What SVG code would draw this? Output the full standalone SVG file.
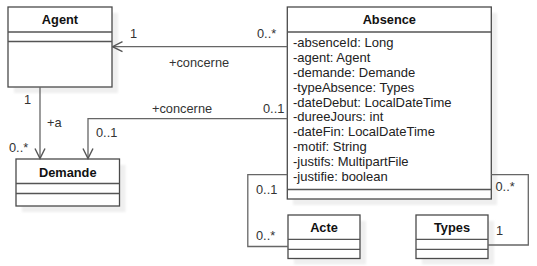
<svg xmlns="http://www.w3.org/2000/svg" width="537" height="266" viewBox="0 0 537 266">
  <defs>
    <marker id="open" viewBox="0 0 12 12" refX="11" refY="6" markerWidth="12" markerHeight="12" markerUnits="userSpaceOnUse" orient="auto">
      <path d="M1,1 L11,6 L1,11" fill="none" stroke="#555" stroke-width="1.4"/>
    </marker>
    <filter id="soft" x="-10%" y="-10%" width="130%" height="130%">
      <feGaussianBlur stdDeviation="0.8"/>
    </filter>
  </defs>
  <style>
    .shadow { fill: #efefef; filter: url(#soft); }
    .box { fill: #ffffff; stroke: #4a4a4a; stroke-width: 1.3; }
    .sep { stroke: #555; stroke-width: 1.3; }
    .title { font-family: "Liberation Sans", Arial, sans-serif; font-size: 12.8px; font-weight: bold; fill: #111; text-anchor: middle; }
    .attr { font-family: "Liberation Sans", Arial, sans-serif; font-size: 13px; fill: #222; }
    .lbl { font-family: "Liberation Sans", Arial, sans-serif; font-size: 12.8px; fill: #333; }
    .edge { fill: none; stroke: #666; stroke-width: 1.3; }
  </style>
  <rect width="537" height="266" fill="#ffffff"/>

  <g id="agent">
    <rect class="shadow" x="14" y="13" width="104" height="80"/>
    <rect class="box" x="8" y="7" width="104" height="80"/>
    <line class="sep" x1="8" y1="32" x2="112" y2="32"/>
    <line class="sep" x1="8" y1="41.5" x2="112" y2="41.5"/>
    <text class="title" x="60" y="23.5">Agent</text>
  </g>

  <g id="demande">
    <rect class="shadow" x="22" y="165" width="103.5" height="47"/>
    <rect class="box" x="16" y="159" width="103.5" height="47"/>
    <line class="sep" x1="16" y1="183.5" x2="119.5" y2="183.5"/>
    <line class="sep" x1="16" y1="193.5" x2="119.5" y2="193.5"/>
    <text class="title" x="67.7" y="176.5">Demande</text>
  </g>

  <g id="absence">
    <rect class="shadow" x="293" y="13" width="204" height="192"/>
    <rect class="box" x="287.3" y="7" width="204" height="192"/>
    <line class="sep" x1="287.3" y1="32" x2="491.3" y2="32"/>
    <line class="sep" x1="287.3" y1="189.5" x2="491.3" y2="189.5"/>
    <text class="title" x="389.3" y="23.5">Absence</text>
    <text class="attr" x="293" y="47.3">-absenceId: Long</text>
    <text class="attr" x="293" y="62.1">-agent: Agent</text>
    <text class="attr" x="293" y="76.9">-demande: Demande</text>
    <text class="attr" x="293" y="91.7">-typeAbsence: Types</text>
    <text class="attr" x="293" y="106.5">-dateDebut: LocalDateTime</text>
    <text class="attr" x="293" y="121.3">-dureeJours: int</text>
    <text class="attr" x="293" y="136.1">-dateFin: LocalDateTime</text>
    <text class="attr" x="293" y="150.9">-motif: String</text>
    <text class="attr" x="293" y="165.7">-justifs: MultipartFile</text>
    <text class="attr" x="293" y="180.5">-justifie: boolean</text>
  </g>

  <g id="acte">
    <rect class="shadow" x="294" y="221" width="72" height="43.5"/>
    <rect class="box" x="288" y="215" width="72" height="43.5"/>
    <line class="sep" x1="288" y1="239.3" x2="360" y2="239.3"/>
    <line class="sep" x1="288" y1="249.3" x2="360" y2="249.3"/>
    <text class="title" x="324" y="231.5">Acte</text>
  </g>

  <g id="types">
    <rect class="shadow" x="422" y="221" width="72" height="43.5"/>
    <rect class="box" x="416" y="215" width="72" height="43.5"/>
    <line class="sep" x1="416" y1="239.3" x2="488" y2="239.3"/>
    <line class="sep" x1="416" y1="249.3" x2="488" y2="249.3"/>
    <text class="title" x="452" y="231.5">Types</text>
  </g>

  <g id="connectors">
    <!-- Absence -> Agent -->
    <path class="edge" d="M287.3,46.7 L112.5,46.7" marker-end="url(#open)"/>
    <text class="lbl" x="130" y="37.5">1</text>
    <text class="lbl" x="257" y="37.5">0..*</text>
    <text class="lbl" x="169" y="66.5">+concerne</text>

    <!-- Agent -> Demande -->
    <path class="edge" d="M40,87 L40,158.5" marker-end="url(#open)"/>
    <text class="lbl" x="24" y="103.5">1</text>
    <text class="lbl" x="47" y="126.5">+a</text>
    <text class="lbl" x="9" y="151.5">0..*</text>

    <!-- Absence -> Demande -->
    <path class="edge" d="M287.3,118.7 L88,118.7 L88,158.5" marker-end="url(#open)"/>
    <text class="lbl" x="152" y="112.5">+concerne</text>
    <text class="lbl" x="263" y="112.5">0..1</text>
    <text class="lbl" x="96" y="136.5">0..1</text>

    <!-- Absence - Acte -->
    <path class="edge" d="M287.3,174.7 L247.8,174.7 L247.8,246.5 L288,246.5"/>
    <text class="lbl" x="256" y="193.5">0..1</text>
    <text class="lbl" x="256" y="239.5">0..*</text>

    <!-- Absence - Types -->
    <path class="edge" d="M491.3,174.7 L528.3,174.7 L528.3,245 L488,245"/>
    <text class="lbl" x="495.5" y="190.5">0..*</text>
    <text class="lbl" x="496" y="234.5">1</text>
  </g>
</svg>
